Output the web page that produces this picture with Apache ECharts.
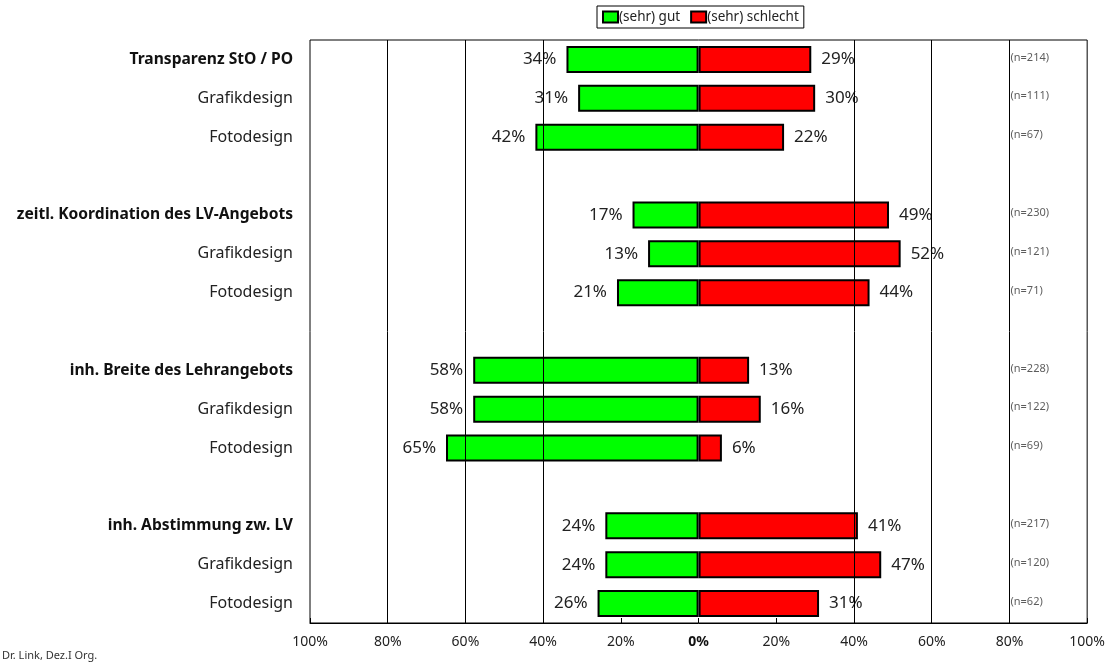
<!DOCTYPE html>
<html><head><meta charset="utf-8">
<script src="https://cdn.jsdelivr.net/npm/echarts@6/dist/echarts.min.js"></script>
<style>html,body{margin:0;padding:0;background:#fff}#c{width:1108px;height:663px}</style>
</head><body><div id="c"></div>
<script>
const categories = ['Transparenz StO / PO','Grafikdesign','Fotodesign','',
  'zeitl. Koordination des LV-Angebots','Grafikdesign','Fotodesign','',
  'inh. Breite des Lehrangebots','Grafikdesign','Fotodesign','',
  'inh. Abstimmung zw. LV','Grafikdesign','Fotodesign'];
const isHeader = [1,0,0,0, 1,0,0,0, 1,0,0,0, 1,0,0];
const gut      = [34,31,42,null, 17,13,21,null, 58,58,65,null, 24,24,26];
const schlecht = [29,30,22,null, 49,52,44,null, 13,16,6,null, 41,47,31];
const nLabels  = ['(n=214)','(n=111)','(n=67)',null,'(n=230)','(n=121)','(n=71)',null,
  '(n=228)','(n=122)','(n=69)',null,'(n=217)','(n=120)','(n=62)'];
const gridLines = [-80,-60,-40,40,60,80];
const FONT = '"Noto Sans", sans-serif';

const chart = echarts.init(document.getElementById('c'), null, {renderer:'canvas'});
chart.setOption({
  animation:false,
  textStyle:{fontFamily:FONT},
  legend:{
    top:6, left:597,
    data:['(sehr) gut','(sehr) schlecht'],
    backgroundColor:'#fff', borderColor:'#000', borderWidth:1,
    padding:[4,5], itemGap:10, itemWidth:15, itemHeight:11,
    textStyle:{fontSize:13.5, color:'#222', fontFamily:FONT, padding:[0,0,0,-4]},
    icon:'rect'
  },
  graphic:[{type:'text', left:2, top:650, style:{text:'Dr. Link, Dez.I Org.', fontSize:11, fill:'#333', fontFamily:FONT}}],
  grid:{left:310, right:20, top:40, bottom:40, show:true, borderColor:'#000', borderWidth:1, containLabel:false},
  xAxis:{
    type:'value', min:-100, max:100, interval:20,
    axisLine:{show:true, lineStyle:{color:'#000', width:1}},
    axisTick:{show:true, inside:true, length:5, lineStyle:{color:'#000'}},
    splitLine:{show:false},
    axisLabel:{margin:12, fontSize:14, color:'#222', fontFamily:FONT,
      formatter:function(v){ return v===0 ? '{b|0%}' : Math.abs(v)+'%'; },
      rich:{b:{fontWeight:'bold', fontSize:14, color:'#111', fontFamily:FONT}}}
  },
  yAxis:{
    type:'category', inverse:true, data:categories,
    axisLine:{show:false}, axisTick:{show:false}, splitLine:{show:false},
    axisLabel:{margin:17, fontSize:16, color:'#222', fontFamily:FONT,
      formatter:function(v,i){ return isHeader[i] ? '{h|'+v+'}' : v; },
      rich:{h:{fontWeight:'bold', fontSize:15.6, color:'#111', fontFamily:FONT}}}
  },
  series:[
    {
      name:'grid', type:'scatter', z:1, symbolSize:0, silent:true,
      data:nLabels.map((t,i)=> t ? {value:[80,i], label:{formatter:t}} : null).filter(Boolean),
      label:{show:true, position:'right', distance:1, offset:[0,-2], fontSize:11, color:'#333', fontFamily:FONT},
      markLine:{silent:true, symbol:'none', label:{show:false},
        lineStyle:{color:'#000', width:1, type:'solid'},
        data:gridLines.map(v=>({xAxis:v}))}
    },
    {
      name:'(sehr) gut', type:'bar', stack:'t', z:3, barWidth:27,
      data:gut.map(v=> v==null ? null : -v),
      itemStyle:{color:'#00ff00', borderColor:'#000', borderWidth:2},
      label:{show:true, position:'left', distance:10, fontSize:17, color:'#222', fontFamily:FONT,
        formatter:p=> Math.abs(p.value)+'%'}
    },
    {
      name:'(sehr) schlecht', type:'bar', stack:'t', z:3, barWidth:27,
      data:schlecht,
      itemStyle:{color:'#ff0000', borderColor:'#000', borderWidth:2},
      label:{show:true, position:'right', distance:10, fontSize:17, color:'#222', fontFamily:FONT,
        formatter:p=> p.value+'%'}
    }
  ]
});
</script></body></html>
